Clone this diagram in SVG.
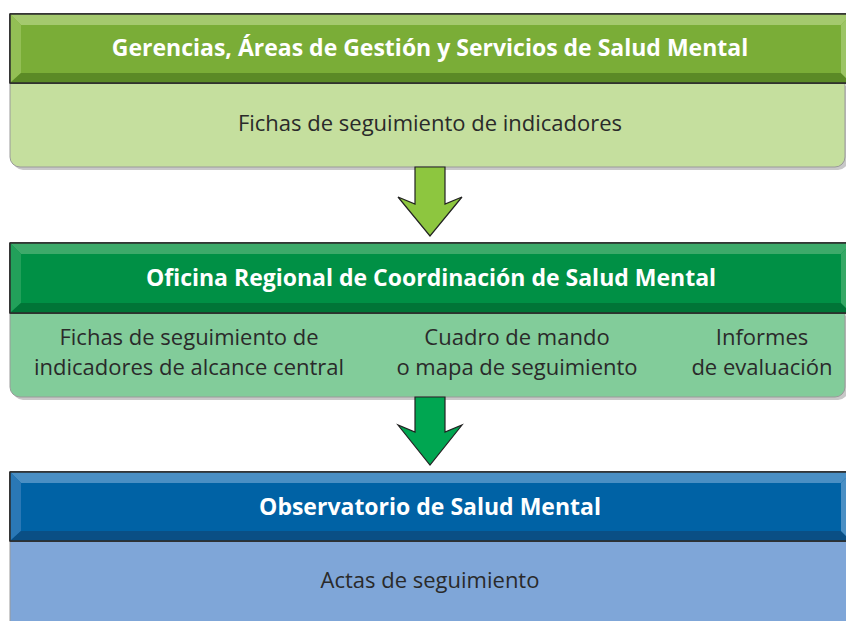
<svg xmlns="http://www.w3.org/2000/svg" width="846" height="621" viewBox="0 0 846 621">
<style>
.hd{font-family:"Open Sans","Noto Sans","Liberation Sans",sans-serif;font-weight:bold;font-size:23px;fill:#ffffff;text-anchor:middle}
.bd{font-family:"Open Sans","Noto Sans","Liberation Sans",sans-serif;font-size:22px;fill:#2a2a2a;text-anchor:middle}
.shadow{fill:#c8c8c8}
.edge{stroke:#2a2a2a;stroke-width:1.5}
.arrow{stroke:#222222;stroke-width:1.2}
</style>
<g id="node-gerencias">
<path class="shadow" d="M13 86 H848 V160 a10 10 0 0 1 -10 10 H23 a10 10 0 0 1 -10 -10 Z"/>
<path d="M10 83 H845 V157 a10 10 0 0 1 -10 10 H20 a10 10 0 0 1 -10 -10 Z" fill="#c5df9e" stroke="#9a9a9a" stroke-width="1"/>
<rect x="10" y="14" width="841" height="69" fill="#7aad37" class="edge"/>
<polygon points="10,14 851,14 841,25 21,25" fill="#a4c96e"/>
<polygon points="10,14 21,25 21,73 10,83" fill="#93bf55"/>
<polygon points="10,83 21,73 841,73 851,83" fill="#5b8a26"/>
<polygon points="851,14 841,25 841,73 851,83" fill="#9cc565"/>
<rect x="21" y="25" width="820" height="48" fill="#7aad37"/>
<line x1="10" y1="14" x2="851" y2="14" class="edge"/>
<line x1="10" y1="83" x2="851" y2="83" class="edge"/>
<line x1="10" y1="14" x2="10" y2="83" class="edge"/>
<text x="430" y="56" class="hd">Gerencias, Áreas de Gestión y Servicios de Salud Mental</text>
<text x="430" y="131" class="bd">Fichas de seguimiento de indicadores</text>
</g>
<g id="node-oficina">
<path class="shadow" d="M13 316 H848 V390 a10 10 0 0 1 -10 10 H23 a10 10 0 0 1 -10 -10 Z"/>
<path d="M10 313 H845 V387 a10 10 0 0 1 -10 10 H20 a10 10 0 0 1 -10 -10 Z" fill="#82cc9a" stroke="#9a9a9a" stroke-width="1"/>
<rect x="10" y="243" width="841" height="70" fill="#009045" class="edge"/>
<polygon points="10,243 851,243 841,254 21,254" fill="#3daa6a"/>
<polygon points="10,243 21,254 21,303 10,313" fill="#22a05a"/>
<polygon points="10,313 21,303 841,303 851,313" fill="#007537"/>
<polygon points="851,243 841,254 841,303 851,313" fill="#35a865"/>
<rect x="21" y="254" width="820" height="49" fill="#009045"/>
<line x1="10" y1="243" x2="851" y2="243" class="edge"/>
<line x1="10" y1="313" x2="851" y2="313" class="edge"/>
<line x1="10" y1="243" x2="10" y2="313" class="edge"/>
<text x="431" y="286" class="hd">Oficina Regional de Coordinación de Salud Mental</text>
<text x="189" y="345" class="bd">Fichas de seguimiento de</text>
<text x="189" y="375" class="bd">indicadores de alcance central</text>
<text x="517" y="345" class="bd">Cuadro de mando</text>
<text x="517" y="375" class="bd">o mapa de seguimiento</text>
<text x="762" y="345" class="bd">Informes</text>
<text x="762" y="375" class="bd">de evaluación</text>
</g>
<g id="node-observatorio">
<path d="M10 541 H851 V630 H10 Z" fill="#7fa6d8" stroke="#9a9a9a" stroke-width="1"/>
<rect x="10" y="472" width="841" height="69" fill="#0062a5" class="edge"/>
<polygon points="10,472 851,472 841,483 21,483" fill="#4a8fc4"/>
<polygon points="10,472 21,483 21,531 10,541" fill="#2a78b6"/>
<polygon points="10,541 21,531 841,531 851,541" fill="#0a4f85"/>
<polygon points="851,472 841,483 841,531 851,541" fill="#4a8fc4"/>
<rect x="21" y="483" width="820" height="48" fill="#0062a5"/>
<line x1="10" y1="472" x2="851" y2="472" class="edge"/>
<line x1="10" y1="541" x2="851" y2="541" class="edge"/>
<line x1="10" y1="472" x2="10" y2="541" class="edge"/>
<text x="430" y="515" class="hd">Observatorio de Salud Mental</text>
<text x="430" y="588" class="bd">Actas de seguimiento</text>
</g>
<g id="connectors">
<polygon class="arrow" points="415,167 445,167 445,204 462,197 430,236 398,197 415,204" fill="#8dc63f"/>
<polygon class="arrow" points="415,397 445,397 445,432 462,425 430,465 398,425 415,432" fill="#00a651"/>
</g>
</svg>
